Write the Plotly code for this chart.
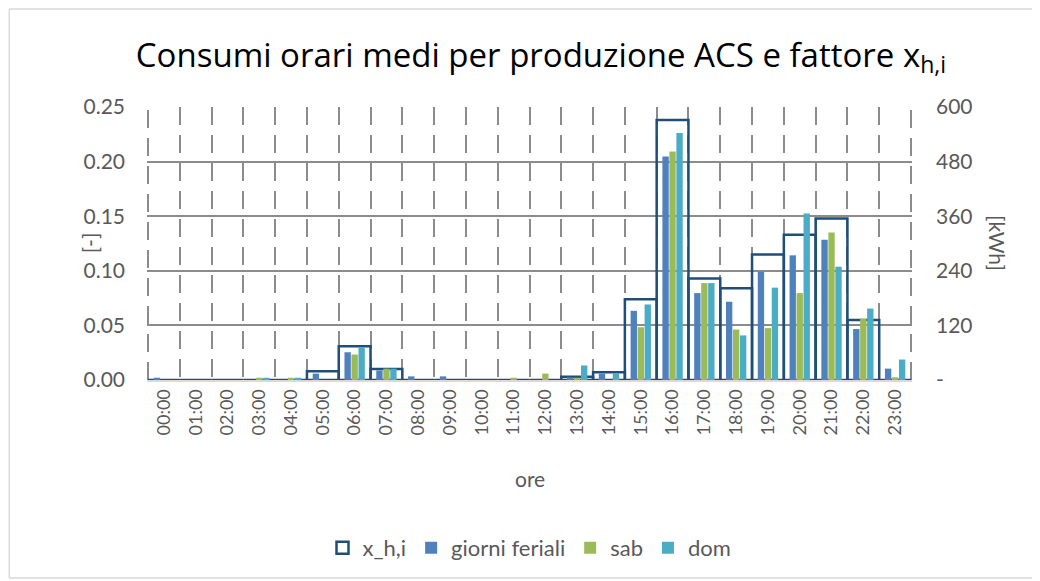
import plotly.graph_objects as go

# hourly categories
ore = ["%02d:00" % h for h in range(24)]

# fattore x_h,i [-]
x_hi = [0, 0, 0, 0, 0, 0.008, 0.031, 0.010, 0, 0, 0, 0,
        0, 0.003, 0.007, 0.074, 0.238, 0.093, 0.084, 0.115, 0.133, 0.148, 0.055, 0]

# consumi [kWh]
feriali = [5, 0, 0, 0, 0, 14, 61, 21, 8, 8, 0, 0,
           0, 6, 14, 152, 491, 191, 172, 238, 274, 308, 112, 25]
sab = [0, 0, 0, 5, 5, 0, 56, 25, 0, 0, 0, 5,
       14, 5, 0, 116, 502, 213, 111, 114, 191, 324, 135, 6]
dom = [0, 0, 0, 5, 5, 0, 72, 25, 0, 0, 0, 0,
       0, 32, 15, 166, 543, 213, 98, 203, 366, 249, 157, 45]

right_ticks = [0, 120, 240, 360, 480, 600]
right_text = ["-", "120", "240", "360", "480", "600"]

FONT = "Lato"
GREY = "#595959"
GRID = "#8C8C8C"
DASH = "18px,10px"

fig = go.Figure()

fig.add_trace(go.Bar(x=ore, y=x_hi, name="x_h,i", yaxis="y",
                     width=1, offset=-0.5,
                     marker=dict(color="rgba(0,0,0,0)",
                                 line=dict(color="#1F4E79", width=2.5))))

for name, vals, col, off in [("giorni feriali", feriali, "#4F81BD", -0.32),
                             ("sab", sab, "#9BBB59", -0.10),
                             ("dom", dom, "#4BACC6", 0.12)]:
    fig.add_trace(go.Bar(x=ore, y=vals, name=name, yaxis="y2",
                         width=0.2, offset=off,
                         marker=dict(color=col, line=dict(width=0))))

fig.update_layout(
    width=1040, height=581,
    margin=dict(l=139, r=136, t=99, b=209, autoexpand=False),
    paper_bgcolor="white", plot_bgcolor="white",
    barmode="overlay",
    font=dict(family=FONT, color=GREY, size=21),
    title=dict(text="Consumi orari medi per produzione ACS e fattore x<sub>h,i</sub>",
               x=0.5125, xanchor="center", y=1 - 47 / 581, yanchor="middle",
               font=dict(family="Open Sans", size=33, color="#000000")),
    xaxis=dict(type="category", tickangle=-90, tickson="boundaries",
               showgrid=True, gridcolor=GRID, gridwidth=2, griddash=DASH,
               showline=True, linecolor="#D9D9D9", linewidth=2,
               ticks="", automargin=False, tickfont=dict(size=18, color=GREY)),
    yaxis=dict(range=[0, 0.25], dtick=0.05, tickformat=".2f",
               showgrid=True, gridcolor=GRID, gridwidth=2, zeroline=False,
               ticks="", automargin=False, ticklabelstandoff=21,
               tickfont=dict(size=21, color=GREY)),
    yaxis2=dict(range=[0, 600], overlaying="y", side="right",
                tickvals=right_ticks, ticktext=right_text,
                showgrid=False, zeroline=False, ticks="", automargin=False,
                ticklabelstandoff=23, tickfont=dict(size=21, color=GREY)),
    legend=dict(orientation="h", x=0.5, xanchor="center",
                yref="container", y=1 - 540 / 581, yanchor="middle",
                font=dict(size=22, color=GREY)),
    showlegend=True,
)

fig.add_annotation(text="ore", xref="paper", yref="paper", x=0.5, y=-0.359,
                   xanchor="center", yanchor="middle",
                   showarrow=False, font=dict(size=21, color=GREY))
fig.add_annotation(text="[-]", xref="paper", yref="paper", x=-0.074, y=0.502,
                   xanchor="center", yanchor="middle",
                   textangle=-90, showarrow=False, font=dict(size=21, color=GREY))
fig.add_annotation(text="[kWh]", xref="paper", yref="paper", x=1.111, y=0.502,
                   xanchor="center", yanchor="middle",
                   textangle=90, showarrow=False, font=dict(size=21, color=GREY))

# dashed gridlines on the plot edges
for edge in (-0.5, 23.5):
    fig.add_shape(type="line", xref="x", yref="paper", x0=edge, x1=edge, y0=0, y1=1,
                  line=dict(color=GRID, width=2, dash=DASH), layer="below")

# chart frame (left, top, bottom; right side runs off the picture)
frame = dict(color="#D9D9D9", width=1.5)
fig.add_shape(type="line", xref="paper", yref="paper", x0=-0.180, x1=-0.180,
              y0=-0.725, y1=1.359, line=frame, layer="below")
fig.add_shape(type="line", xref="paper", yref="paper", x0=-0.180, x1=1.3,
              y0=1.359, y1=1.359, line=frame, layer="below")
fig.add_shape(type="line", xref="paper", yref="paper", x0=-0.180, x1=1.3,
              y0=-0.725, y1=-0.725, line=frame, layer="below")

fig.write_html("out.html")
